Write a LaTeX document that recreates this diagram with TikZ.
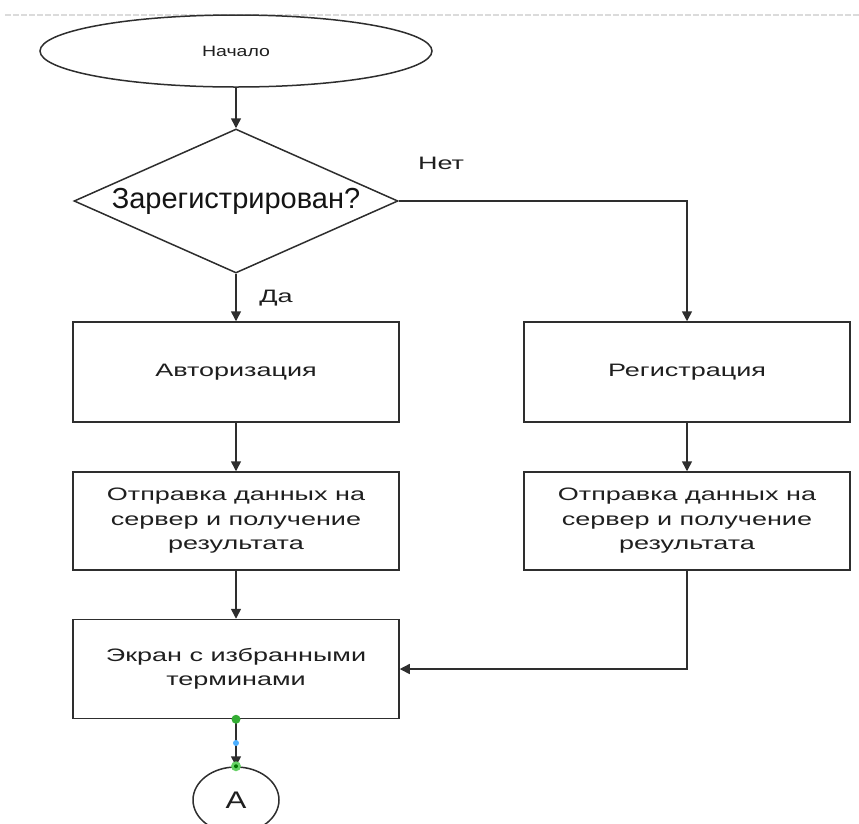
\documentclass[tikz,border=0pt]{standalone}
\usepackage{fontspec}
\usetikzlibrary{shapes.geometric,arrows.meta}
\newfontfamily\wideSans[FakeStretch=1.5]{Liberation Sans}
\newfontfamily\startSans[FakeStretch=1.3]{Liberation Sans}
\newfontfamily\plainSans{Liberation Sans}

\begin{document}
\begin{tikzpicture}[x=1pt,y=-1pt,
  line/.style={draw=black!82, line width=1.5pt},
  flow/.style={line, -{Triangle[length=10pt,width=10pt]}},
  proc/.style={draw=black!82, line width=1.5pt, fill=white,
    minimum width=326pt, minimum height=99pt, inner sep=0pt, align=center,
    font=\wideSans\fontsize{18}{24.5}\selectfont, text=black!88},
  term/.style={ellipse, draw=black!82, line width=1.5pt, fill=white,
    inner sep=0pt, text=black!88},
  decision/.style={diamond, draw=black!82, line width=1.5pt, fill=white,
    inner sep=0pt, aspect=2.25, minimum width=324pt, minimum height=144pt,
    font=\plainSans\fontsize{29}{32}\selectfont, text=black!92},
  lbl/.style={font=\wideSans\fontsize{18}{22}\selectfont, text=black!88},
  handle/.style={fill=green!60!black!80!white}
]
\clip (0,0) rectangle (859,823);
\useasboundingbox (0,0) rectangle (859,823);

% page edge guide
\draw[black!14, line width=1.2pt, dash pattern=on 6pt off 2pt] (5,15) -- (859,15);

% start terminal
\node[term, minimum width=392pt, minimum height=72pt,
  font=\startSans\fontsize{15}{18}\selectfont] (start) at (236,51) {Начало};

% decision
\node[decision] (q) at (236,201) {Зарегистрирован?};

% process boxes
\node[proc, minimum height=100pt] (auth) at (236,372) {Авторизация};
\node[proc, minimum height=100pt] (reg) at (687,372) {Регистрация};
\node[proc, minimum height=98pt] (send1) at (236,521) {Отправка данных на\\сервер и получение\\результата};
\node[proc, minimum height=98pt] (send2) at (687,521) {Отправка данных на\\сервер и получение\\результата};
\node[proc] (fav) at (236,669) {Экран с избранными\\терминами};

% off-page connector
\node[term, minimum width=86pt, minimum height=66pt,
  font=\startSans\fontsize{24}{28}\selectfont] (conn) at (236,800) {A};

% branch labels
\node[lbl] (no) at (441,163) {Нет};
\node[lbl] (yes) at (276,298) {Да};

% connectors
\draw[flow] (start) -- (q);
\draw[flow] (q) -- (auth);
\draw[flow] (q.east) -| (reg);
\draw[flow] (auth) -- (send1);
\draw[flow] (reg) -- (send2);
\draw[flow] (send1) -- (fav);
\draw[flow] (send2.south) |- (fav.east);
\draw[flow] (fav) -- (conn);

% selection handles on the last connector
\fill[handle] (fav.south) circle (4.5pt);
\fill[blue!45!cyan!70!white] (236,743) circle (3pt);
\fill[green!70!black!60!white] (conn.north) circle (5pt);
\fill[green!45!black] (conn.north) circle (2pt);
\end{tikzpicture}
\end{document}
